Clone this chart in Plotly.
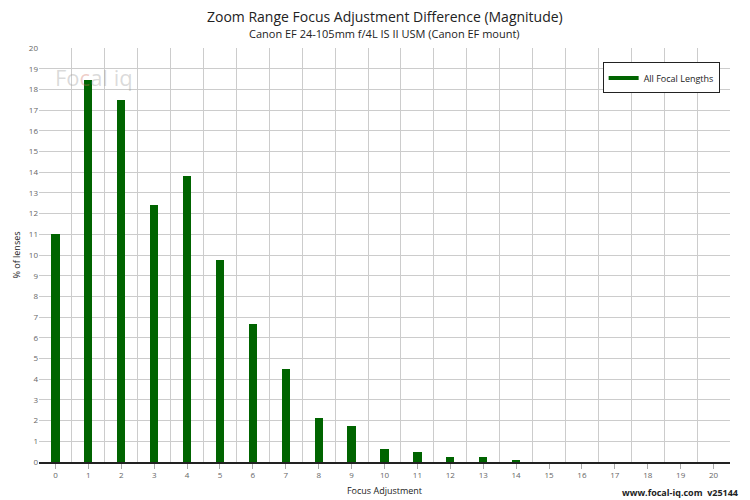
import plotly.graph_objects as go

categories = list(range(21))
values = [11.0, 18.45, 17.5, 12.4, 13.8, 9.76, 6.65, 4.5, 2.13, 1.74, 0.62, 0.5, 0.24, 0.23, 0.12,
          0, 0, 0, 0, 0, 0]
series_name = "All Focal Lengths"

fig = go.Figure()
fig.add_trace(go.Bar(x=categories, y=values, name=series_name, width=0.25,
                     marker=dict(color="#006400", line=dict(width=0)),
                     showlegend=False))
fig.add_trace(go.Scatter(x=[None], y=[None], mode="lines", name=series_name,
                         line=dict(color="#006400", width=4)))

font = "Open Sans, Liberation Sans, sans-serif"
fig.update_layout(
    width=742, height=492,
    margin=dict(l=31, r=20, t=40, b=38, autoexpand=False),
    paper_bgcolor="white", plot_bgcolor="white",
    font=dict(family=font, size=9, color="#555"),
    showlegend=True,
    legend=dict(x=0.985, y=0.965, xanchor="right", yanchor="top",
                bgcolor="white", bordercolor="#222", borderwidth=1,
                font=dict(size=9, color="#222")),
    bargap=0,
)
fig.update_xaxes(range=[-0.5, 20.5], tickvals=categories, ticktext=[str(c) for c in categories],
                 showgrid=False, showline=True, linecolor="#222", linewidth=1.5,
                 ticks="outside", ticklen=5, tickcolor="#aaa", tickfont=dict(size=8, color="#666"),
                 minor=dict(tickvals=[c + 0.5 for c in categories[:-1]], showgrid=True,
                            gridcolor="#cccccc", gridwidth=1),
                 title=dict(text="Focus Adjustment", font=dict(size=9, color="#222"), standoff=8),
                 zeroline=False, automargin=False)
fig.update_yaxes(range=[0, 20], dtick=1, showgrid=True, gridcolor="#cccccc", gridwidth=1,
                 tickfont=dict(size=8, color="#666"), zeroline=False, automargin=False,
                 title=dict(text="% of lenses", font=dict(size=9, color="#222"), standoff=6))
fig.add_annotation(text="Zoom Range Focus Adjustment Difference (Magnitude)", xref="paper", yref="paper",
                   x=0.5, y=1.0 + 32 / 414, xanchor="center", yanchor="middle", showarrow=False,
                   font=dict(size=14, color="#222"))
fig.add_annotation(text="Canon EF 24-105mm f/4L IS II USM (Canon EF mount)", xref="paper", yref="paper",
                   x=0.5, y=1.0 + 15 / 414, xanchor="center", yanchor="middle", showarrow=False,
                   font=dict(size=11, color="#222"))
fig.add_annotation(text="<b>www.focal-iq.com  v25144</b>", xref="paper", yref="paper",
                   x=1.0 + 10 / 691, y=-31 / 414, xanchor="right", yanchor="middle", showarrow=False,
                   font=dict(size=9, color="#222"))
fig.add_annotation(text="Fo<span style='color:#d07060'>c</span>al iq", xref="paper", yref="paper",
                   x=0.02, y=0.97, xanchor="left", yanchor="top", showarrow=False,
                   font=dict(size=22, color="rgba(150,150,150,0.35)"))
fig.write_html("out.html")
